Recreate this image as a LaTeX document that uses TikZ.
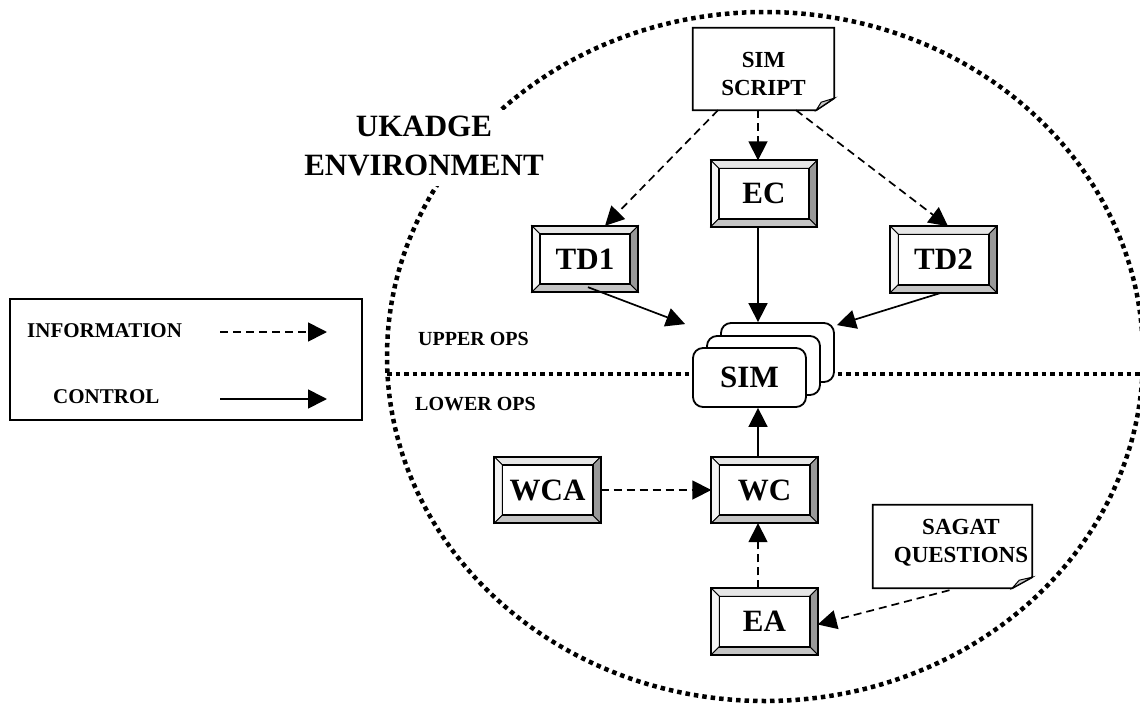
\documentclass[tikz,border=0pt]{standalone}
\usepackage{fontspec}
\setmainfont{Liberation Serif}
\usetikzlibrary{arrows.meta,calc}

\definecolor{bevtop}{HTML}{E6E6E6}
\definecolor{bevleft}{HTML}{F4F4F4}
\definecolor{bevright}{HTML}{999999}
\definecolor{bevbot}{HTML}{C4C4C4}
\definecolor{foldgray}{HTML}{C8C8C8}

% framed box with a bevelled border, drawn round a named node
\newcommand\bevelframe[1]{%
  \path ($(#1.north west)+(8,8)$) coordinate (#1-i1)
        ($(#1.north east)+(-8,8)$) coordinate (#1-i2)
        ($(#1.south east)+(-8,-8)$) coordinate (#1-i3)
        ($(#1.south west)+(8,-8)$) coordinate (#1-i4);
  \filldraw[bevline, fill=bevtop] (#1.north west) -- (#1.north east) -- (#1-i2) -- (#1-i1) -- cycle;
  \filldraw[bevline, fill=bevleft] (#1.north west) -- (#1-i1) -- (#1-i4) -- (#1.south west) -- cycle;
  \filldraw[bevline, fill=bevright] (#1.north east) -- (#1.south east) -- (#1-i3) -- (#1-i2) -- cycle;
  \filldraw[bevline, fill=bevbot] (#1.south west) -- (#1-i4) -- (#1-i3) -- (#1.south east) -- cycle;
  \draw[line width=1.6pt] (#1-i1) rectangle (#1-i3);
  \draw[line width=2pt] (#1.north west) rectangle (#1.south east);
}

% sheet of paper with a folded lower right corner, drawn round a named node
% #2: height of the cut on the right edge, #3: width of the cut on the bottom edge
\newcommand\paperframe[3]{%
  \draw[line width=1.8pt, line join=miter] (#1.north west) -- (#1.north east)
     -- ($(#1.south east)+(0,-#2)$) -- ($(#1.south east)+(-#3,0)$) -- (#1.south west) -- cycle;
  \filldraw[line width=1pt, fill=foldgray] ($(#1.south east)+(0,-#2)$) -- ($(#1.south east)+(-#3,0)$)
     -- ($(#1.south east)+(-13,-8)$) -- cycle;
}

\begin{document}
\begin{tikzpicture}[x=1pt, y=-1pt,
  border/.style={line width=4.5pt, dash pattern=on 4.5pt off 4pt},
  bevline/.style={line width=1pt},
  unit/.style={minimum width=106pt, minimum height=66pt, inner sep=0pt, fill=white,
               font=\bfseries\fontsize{31}{36}\selectfont},
  paper/.style={inner sep=0pt, fill=white, align=center,
                font=\bfseries\fontsize{23}{28}\selectfont},
  simcard/.style={draw, line width=1.8pt, rounded corners=10pt, fill=white,
                  minimum width=113pt, minimum height=59pt, inner sep=0pt,
                  font=\bfseries\fontsize{31}{36}\selectfont},
  zone/.style={inner sep=0pt, font=\bfseries\fontsize{20}{24}\selectfont},
  legtext/.style={inner sep=0pt, font=\bfseries\fontsize{21}{25}\selectfont},
  conn/.style={line width=1.7pt, -{Triangle[length=19pt, width=19pt]}},
  ctrl/.style={conn},
  info/.style={conn, dash pattern=on 8pt off 5pt},
]
\useasboundingbox (0,0) rectangle (1140,706);

% environment boundary and the split between upper and lower operations
\draw[border] (765,356.5) ellipse [x radius=378pt, y radius=344.5pt];
\draw[border] (387,374) -- (1142,374);
\fill[white] (300,110) rectangle (548,186);
\node[inner sep=0pt, align=center, font=\bfseries\fontsize{31}{39}\selectfont]
  (env) at (424,146) {UKADGE\\ENVIRONMENT};

\node[zone, anchor=base west] (upper) at (418,345) {UPPER OPS};
\node[zone, anchor=base west] (lower) at (415,410) {LOWER OPS};

% legend
\node[draw, line width=1.6pt, minimum width=352pt, minimum height=121pt, inner sep=0pt]
  (legend) at (186,359.5) {};
\node[legtext, anchor=base west] (infotext) at (27,337) {INFORMATION};
\node[legtext, anchor=base west] (ctrltext) at (53,403) {CONTROL};
\coordinate (info-a) at (220,332);
\coordinate (info-b) at (327,332);
\coordinate (ctrl-a) at (220,399);
\coordinate (ctrl-b) at (327,399);
\draw[info] (info-a) -- (info-b);
\draw[ctrl] (ctrl-a) -- (ctrl-b);

% script and questionnaire sheets
\node[paper, minimum width=141pt, minimum height=82pt] (script) at (763.5,69)
  {\rule{0pt}{25pt}SIM\\SCRIPT};
\paperframe{script}{12}{18}
\node[paper, minimum width=159pt, minimum height=83pt] (sagat) at (952.5,546.5)
  {\hspace*{17pt}SAGAT\\\hspace*{17pt}QUESTIONS\rule[-11pt]{0pt}{11pt}};
\paperframe{sagat}{11}{20}

% stacked simulator cards
\node[simcard] (simb) at (777.5,352.5) {};
\node[simcard] (simm) at (763.5,365.5) {};
\node[simcard] (sim) at (749.5,377.5) {SIM};

% controllers and assistants
\node[unit] (ec) at (764,193.5) {EC};
\bevelframe{ec}
\node[unit] (td1) at (585,259) {TD1};
\bevelframe{td1}
\node[unit] (td2) at (943.5,259.5) {TD2};
\bevelframe{td2}
\node[unit] (wca) at (547.5,490) {WCA};
\bevelframe{wca}
\node[unit] (wc) at (764.5,490) {WC};
\bevelframe{wc}
\node[unit] (ea) at (764.5,621.5) {EA};
\bevelframe{ea}

% information flows
\draw[info] ($(script.south)+(-45.5,0)$) -- ($(td1.north)+(20,0)$);
\draw[info] ($(script.south)+(-5.5,0)$) -- ($(ec.north)+(-6,0)$);
\draw[info] ($(script.south)+(32.5,0)$) -- ($(td2.north)+(4.5,0)$);
\draw[info] (wca.east) -- (wc.west);
\draw[info] ($(ea.north)+(-6.5,0)$) -- ($(wc.south)+(-6.5,0)$);
\draw[info] ($(sagat.south)+(-3,2)$) -- ($(ea.east)+(0,3)$);

% control flows
\coordinate (sim-in1) at ($(simb.north west)+(-35,2)$);
\coordinate (sim-in2) at ($(simb.north east)+(2,3)$);
\draw[ctrl] ($(ec.south)+(-6,0)$) -- ($(simb.north)+(-19.5,0)$);
\draw[ctrl] ($(td1.south)+(3,-5)$) -- (sim-in1);
\draw[ctrl] ($(td2.south)+(-2,0)$) -- (sim-in2);
\draw[ctrl] ($(wc.north)+(-6.5,0)$) -- ($(sim.south)+(8.5,0)$);
\end{tikzpicture}
\end{document}
